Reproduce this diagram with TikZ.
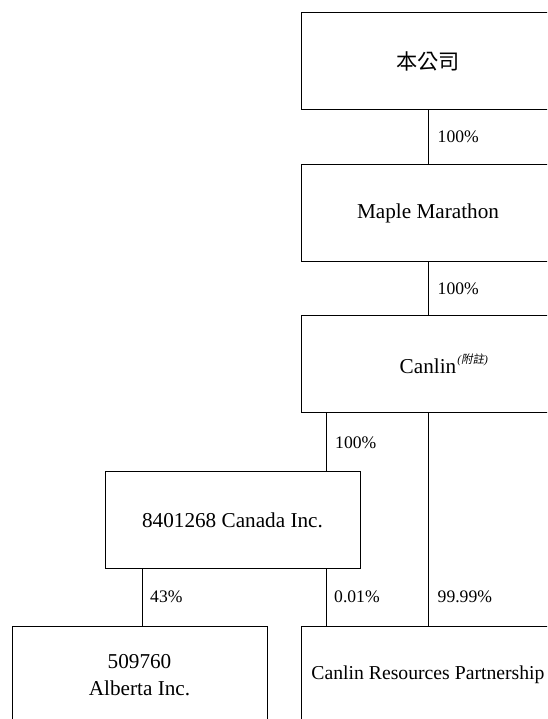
\documentclass[tikz,border=0pt]{standalone}
\usepackage{fontspec}
\setmainfont{Liberation Serif}
\newfontfamily\cjk{Noto Sans CJK TC}
\newfontfamily\cjkit[FakeSlant=0.2]{Noto Sans CJK TC}
\begin{document}
\begin{tikzpicture}[x=1pt,y=-1pt,
  entity/.style={draw, line width=1pt, rectangle, inner sep=0pt, minimum width=254pt, minimum height=97pt, align=center, font=\fontsize{21.2}{27}\selectfont},
  link/.style={line width=0.9pt},
  pct/.style={anchor=west, inner sep=0pt, font=\fontsize{17.6}{20}\selectfont}]
\clip (0,0) rectangle (547,719);
\node[entity] (A) at (428,61.5) {\cjk 本公司};
\node[entity] (B) at (428,213) {Maple Marathon};
\node[entity] (C) at (428,364) {Canlin\rlap{\kern1pt\raisebox{0.45em}{\fontsize{11.5}{12}\selectfont\itshape(\cjkit 附註\rmfamily\itshape)}}};
\node[entity, minimum width=255pt] (D) at (232.5,520) {8401268 Canada Inc.};
\node[entity, minimum width=255pt, minimum height=98pt] (E) at (139.5,675) {509760\\Alberta Inc.};
\node[entity, minimum height=98pt] (F) at (428,675) {\fontsize{19.7}{24}\selectfont Canlin Resources Partnership};
\draw[link] (A.south) -- (B.north);
\draw[link] (B.south) -- (C.north);
\draw[link] (C.south -| 326,0) -- (D.north -| 326,0);
\draw[link] (C.south) -- (F.north);
\draw[link] (D.south -| 142,0) -- (E.north -| 142,0);
\draw[link] (D.south -| 326,0) -- (F.north -| 326,0);
\node[pct] (l1) at (437.5,137) {100\%};
\node[pct] (l2) at (437.5,289) {100\%};
\node[pct] (l3) at (335,443) {100\%};
\node[pct] (l4) at (150,597) {43\%};
\node[pct] (l5) at (334,597) {0.01\%};
\node[pct] (l6) at (437.5,597) {99.99\%};
\end{tikzpicture}
\end{document}
